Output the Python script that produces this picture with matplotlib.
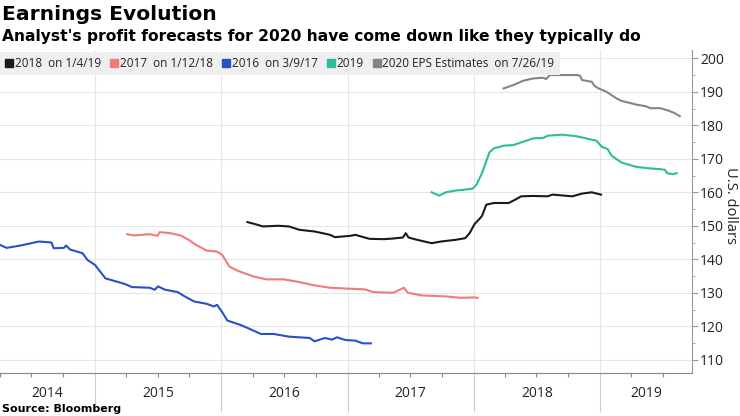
import pandas as pd
import matplotlib.pyplot as plt
import matplotlib.dates as mdates
from matplotlib.lines import Line2D
from matplotlib.transforms import blended_transform_factory

plt.rcParams['font.family'] = ['Open Sans', 'DejaVu Sans']

# EPS estimate series (date, value)
eps16_dates = ["2014-04-01", "2014-04-20", "2014-05-30", "2014-07-23", "2014-08-28", "2014-09-03",
               "2014-10-03", "2014-10-09", "2014-10-21", "2014-11-26", "2014-12-10", "2015-01-01",
               "2015-01-31", "2015-03-26", "2015-04-18", "2015-06-08", "2015-06-23", "2015-07-02",
               "2015-07-23", "2015-08-28", "2015-09-21", "2015-10-15", "2015-11-20", "2015-12-11",
               "2015-12-20", "2016-01-04", "2016-01-19", "2016-02-23", "2016-03-17", "2016-04-25",
               "2016-06-01", "2016-07-15", "2016-09-13", "2016-09-27", "2016-10-27", "2016-11-17",
               "2016-12-01", "2016-12-25", "2017-01-23", "2017-02-14", "2017-03-09"]
eps16_values = [144.3, 143.4, 144.1, 145.3, 145.0, 143.3,
                143.4, 144.1, 142.9, 141.8, 139.8, 138.3,
                134.3, 132.7, 131.7, 131.5, 130.9, 131.9,
                130.9, 130.2, 128.7, 127.4, 126.7, 125.9,
                126.4, 124.2, 121.7, 120.5, 119.5, 117.7,
                117.7, 116.9, 116.5, 115.5, 116.5, 116.0,
                116.7, 115.9, 115.7, 114.9, 114.9]

eps17_dates = ["2015-04-04", "2015-04-23", "2015-06-08", "2015-07-01", "2015-07-07", "2015-08-06",
               "2015-09-06", "2015-09-29", "2015-10-20", "2015-11-20", "2015-12-20", "2016-01-04",
               "2016-01-25", "2016-02-17", "2016-04-02", "2016-05-11", "2016-07-01", "2016-08-14",
               "2016-09-27", "2016-11-11", "2017-01-09", "2017-02-20", "2017-03-17", "2017-05-13",
               "2017-06-13", "2017-06-24", "2017-08-04", "2017-10-13", "2017-11-23", "2018-01-03",
               "2018-01-12"]
eps17_values = [147.5, 147.1, 147.5, 147.0, 148.1, 147.8,
                147.1, 145.8, 144.3, 142.6, 142.3, 141.3,
                137.8, 136.6, 134.9, 134.0, 134.0, 133.2,
                132.2, 131.5, 131.2, 131.0, 130.2, 130.0,
                131.5, 130.0, 129.2, 128.9, 128.5, 128.6,
                128.5]

eps18_dates = ["2016-03-17", "2016-04-08", "2016-05-01", "2016-06-15", "2016-07-15", "2016-08-14",
               "2016-09-27", "2016-11-11", "2016-11-25", "2017-01-09", "2017-01-23", "2017-03-05",
               "2017-04-15", "2017-05-13", "2017-06-10", "2017-06-18", "2017-06-26", "2017-07-21",
               "2017-09-01", "2017-09-28", "2017-11-09", "2017-12-07", "2017-12-20", "2018-01-03",
               "2018-01-17", "2018-01-25", "2018-02-06", "2018-02-28", "2018-04-12", "2018-05-01",
               "2018-05-18", "2018-06-22", "2018-08-03", "2018-08-17", "2018-10-13", "2018-11-10",
               "2018-12-08", "2019-01-04"]
eps18_values = [151.1, 150.5, 149.8, 150.0, 149.8, 148.8,
                148.3, 147.3, 146.6, 147.0, 147.3, 146.1,
                146.0, 146.2, 146.5, 147.8, 146.5, 145.8,
                144.8, 145.3, 145.8, 146.3, 147.8, 150.5,
                152.0, 153.0, 156.3, 156.8, 156.8, 157.8,
                158.8, 158.9, 158.8, 159.3, 158.8, 159.6,
                160.0, 159.3]

eps19_dates = ["2017-09-01", "2017-09-23", "2017-10-12", "2017-11-09", "2017-12-07", "2017-12-29",
               "2018-01-09", "2018-01-25", "2018-02-15", "2018-02-28", "2018-03-28", "2018-04-25",
               "2018-05-10", "2018-05-24", "2018-06-22", "2018-07-20", "2018-08-03", "2018-09-15",
               "2018-10-27", "2018-12-08", "2018-12-22", "2019-01-06", "2019-01-23", "2019-02-04",
               "2019-03-04", "2019-04-15", "2019-05-27", "2019-06-25", "2019-07-08", "2019-07-14",
               "2019-07-31", "2019-08-11"]
eps19_values = [160.0, 159.0, 160.0, 160.5, 160.8, 161.1,
                162.3, 165.8, 171.9, 173.1, 173.9, 174.1,
                174.6, 175.1, 176.1, 176.2, 176.9, 177.2,
                176.7, 175.7, 175.4, 173.6, 172.9, 170.9,
                168.9, 167.6, 167.1, 166.9, 166.7, 165.7,
                165.4, 165.7]

eps20_dates = ["2018-03-28", "2018-04-25", "2018-05-24", "2018-06-22", "2018-07-20", "2018-07-29",
               "2018-08-09", "2018-09-15", "2018-10-27", "2018-11-04", "2018-11-10", "2018-12-08",
               "2018-12-16", "2018-12-28", "2019-01-20", "2019-02-18", "2019-03-04", "2019-04-15",
               "2019-05-13", "2019-05-27", "2019-06-25", "2019-07-17", "2019-08-06", "2019-08-20"]
eps20_values = [191.0, 192.0, 193.3, 194.0, 194.2, 193.8,
                195.0, 195.0, 195.0, 194.8, 193.5, 193.0,
                191.8, 191.0, 190.0, 188.0, 187.3, 186.2,
                185.7, 185.1, 185.1, 184.4, 183.6, 182.7]

series_labels = ["2018  on 1/4/19", "2017  on 1/12/18", "2016  on 3/9/17", "2019",
                 "2020 EPS Estimates  on 7/26/19"]
series_colors = ["#1a1a1a", "#f27b76", "#2a4fc6", "#2bbd9c", "#858585"]
years = [2014, 2015, 2016, 2017, 2018, 2019]

fig = plt.figure(figsize=(7.4, 4.16), dpi=100)
ax = fig.add_axes([0.0, 0.103, 0.935, 0.777])

series = [(eps18_dates, eps18_values), (eps17_dates, eps17_values), (eps16_dates, eps16_values),
          (eps19_dates, eps19_values), (eps20_dates, eps20_values)]
for (d, v), c in zip(series, series_colors):
    ax.plot(pd.to_datetime(d), v, color=c, lw=1.5)

x0, x1 = pd.Timestamp("2014-04-01"), pd.Timestamp("2019-09-24")
ax.set_xlim(x0, x1)
ax.set_ylim(106, 202.5)

# y axis on the right
ax.yaxis.tick_right()
ax.set_yticks(range(110, 201, 10))
ax.set_yticks(range(115, 200, 10), minor=True)
ax.tick_params(axis='y', which='major', length=4, color='#999999', labelsize=10,
               labelcolor='#222222', pad=2)
ax.tick_params(axis='y', which='minor', length=2, color='#999999')
ax.yaxis.set_label_position('right')
ax.set_ylabel("U.S. dollars", rotation=-90, fontsize=10.5, color='#222222')
ax.yaxis.label.set_verticalalignment('center')
ax.yaxis.set_label_coords(1.056, 0.52)

# x axis: year separators + quarterly ticks
ax.xaxis.set_major_locator(mdates.YearLocator())
ax.xaxis.set_minor_locator(mdates.MonthLocator(bymonth=[4, 7, 10]))
ax.xaxis.set_major_formatter(plt.NullFormatter())
ax.tick_params(axis='x', which='major', length=28, color='#cccccc', width=0.8)
ax.tick_params(axis='x', which='minor', length=3, color='#888888', width=0.8)

ax.grid(True, which='major', color='#e6e6e6', lw=0.8)
ax.set_axisbelow(True)
for s in ['left', 'top']:
    ax.spines[s].set_visible(False)
ax.spines['right'].set_color('#999999')
ax.spines['bottom'].set_color('#888888')

# year labels centered in the visible part of each year
trans = blended_transform_factory(ax.transData, ax.transAxes)
for y in years:
    a = max(pd.Timestamp(f"{y}-01-01"), x0)
    b = min(pd.Timestamp(f"{y + 1}-01-01"), x1)
    mid = a + (b - a) / 2
    ax.text(mid, -0.063, str(y), transform=trans, ha='center', va='center',
            fontsize=10, color='#222222')

handles = [Line2D([], [], marker='s', ls='none', color=c, markersize=6) for c in series_colors]
leg = ax.legend(handles, series_labels, loc='upper left', bbox_to_anchor=(0.0, 0.995), ncol=5,
                frameon=True, fancybox=False, framealpha=1, facecolor='#efefef', edgecolor='none',
                fontsize=8.5, handlelength=0.6, handletextpad=0.2, columnspacing=0.8,
                borderpad=0.45, borderaxespad=0)
for t in leg.get_texts():
    t.set_color('#222222')

fig.text(0.003, 0.965, "Earnings Evolution", fontsize=14.6, fontweight='bold', va='center',
         family=['DejaVu Sans'])
fig.text(0.003, 0.913, "Analyst's profit forecasts for 2020 have come down like they typically do",
         fontsize=11.2, fontweight='bold', va='center', family=['DejaVu Sans'])
fig.text(0.003, 0.017, "Source: Bloomberg", fontsize=8, fontweight='bold', va='center',
         family=['DejaVu Sans'])

fig.savefig("out.png", dpi=100)
